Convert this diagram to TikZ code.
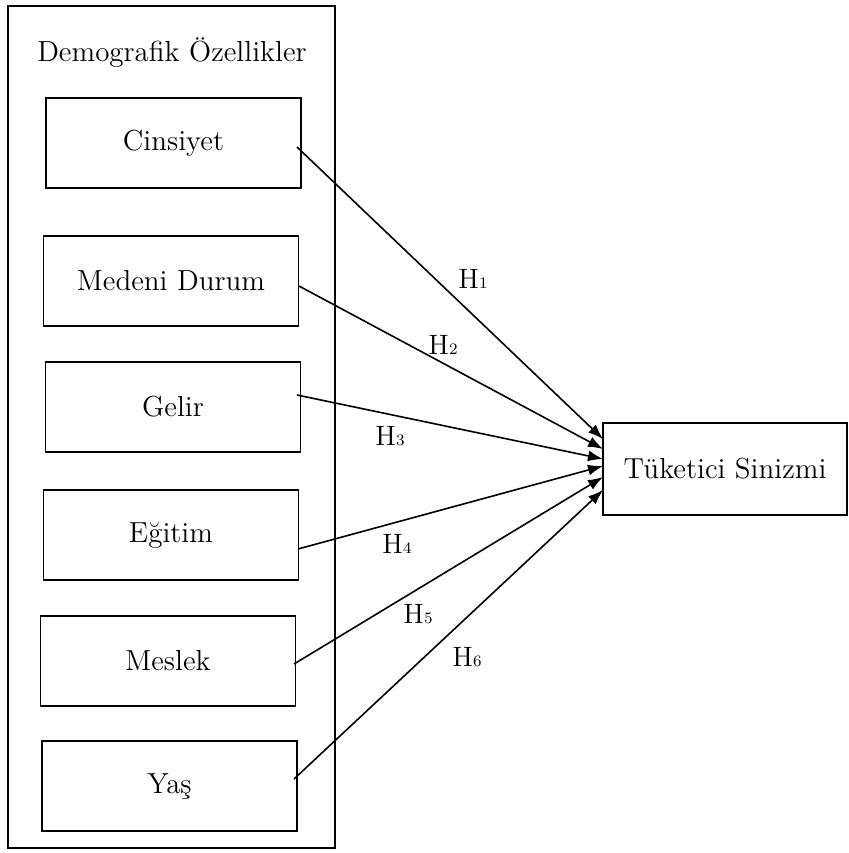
\documentclass[tikz,border=0pt]{standalone}
\usepackage{tikz}
\usetikzlibrary{arrows.meta}

\begin{document}
\begin{tikzpicture}[x=0.5pt,y=-0.5pt,
    kutu/.style={draw,line width=0.8pt,minimum width=127.5pt,minimum height=45pt,outer sep=0pt},
    ok/.style={line width=0.8pt,-{Latex[length=7.5pt,width=5.5pt]}},
    yazi/.style={font=\fontsize{14.5}{17}\selectfont},
    hip/.style={font=\fontsize{14}{16}\selectfont,inner sep=0pt}]
            \useasboundingbox (0,0) rectangle (848,853);

            \node[draw,line width=0.8pt,minimum width=163.5pt,minimum height=421pt] (demog) at (171.5,427) {};
            \node[yazi] (baslik) at (172,53) {Demografik Özellikler};

            \node[kutu,yazi] (cins) at (173.5,143) {Cinsiyet};
            \node[kutu,yazi] (medeni) at (171,281) {Medeni Durum};
            \node[kutu,yazi] (gelir) at (173,407) {Gelir};
            \node[kutu,yazi] (egitim) at (171,535) {Eğitim};
            \node[kutu,yazi] (meslek) at (168,661) {Meslek};
            \node[kutu,yazi] (yas) at (169.5,786) {Yaş};

            \node[kutu,yazi,minimum width=122pt,minimum height=46pt] (sinizm) at (725,469) {Tüketici Sinizmi};

            % baslangic ve bitis noktalari
            \coordinate (c1) at (297,147);
            \coordinate (c2) at (299,286);
            \coordinate (c3) at (297,395);
            \coordinate (c4) at (298,549);
            \coordinate (c5) at (294,664);
            \coordinate (c6) at (294,779);
            \coordinate (e1) at (sinizm.west |- 0,439);
            \coordinate (e2) at (sinizm.west |- 0,449);
            \coordinate (e3) at (sinizm.west |- 0,459);
            \coordinate (e4) at (sinizm.west |- 0,466);
            \coordinate (e5) at (sinizm.west |- 0,477);
            \coordinate (e6) at (sinizm.west |- 0,490);

            \draw[ok] (c1)--(e1);
            \draw[ok] (c2)--(e2);
            \draw[ok] (c3)--(e3);
            \draw[ok] (c4)--(e4);
            \draw[ok] (c5)--(e5);
            \draw[ok] (c6)--(e6);

            \node[hip] (h1) at (473,279) {H{\footnotesize 1}};
            \node[hip] (h2) at (443,345) {H{\footnotesize 2}};
            \node[hip] (h3) at (390,436) {H{\footnotesize 3}};
            \node[hip] (h4) at (397,544) {H{\footnotesize 4}};
            \node[hip] (h5) at (418,614) {H{\footnotesize 5}};
            \node[hip] (h6) at (467,657) {H{\footnotesize 6}};

        \end{tikzpicture}
\end{document}
